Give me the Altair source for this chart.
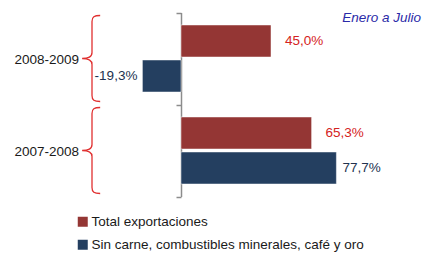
import altair as alt
import pandas as pd

grupos = ["2008-2009", "2007-2008"]
series = ["Total exportaciones", "Sin carne, combustibles minerales, café y oro"]
total = [45.0, 65.3]
sin_carne = [-19.3, 77.7]
nota = "Enero a Julio"

rows = []
for g, t, s in zip(grupos, total, sin_carne):
    rows.append({"grupo": g, "serie": series[0], "valor": t})
    rows.append({"grupo": g, "serie": series[1], "valor": s})
df = pd.DataFrame(rows)
df["etiqueta"] = df["valor"].map(lambda v: f"{v:.1f}".replace(".", ",") + "%")

df_g = pd.DataFrame({"grupo": grupos})
df_n = pd.DataFrame({"t": [nota]})

FONT = "Liberation Sans"
FS = 13.5
RED_BAR = "#943634"
BLUE_BAR = "#243f60"
RED_TXT = "#d42222"
BLUE_TXT = "#22324f"

xs = alt.Scale(domain=[-86.5, 121.5], range=[0, 416], nice=False, zero=False)
ys = alt.Scale(domain=grupos, range=[4.5, 188.5], paddingInner=0, paddingOuter=0)
yo = alt.Scale(domain=series, paddingInner=0.0857, paddingOuter=0.357)

y_axis = alt.Axis(labels=False, title=None, offset=-173, domainColor="#8c8c8c",
                  domainWidth=1.5, tickColor="#8c8c8c", tickWidth=1.5, tickSize=5,
                  tickBand="extent", grid=False)

base = alt.Chart(df)

bars = base.mark_bar(stroke="white", strokeWidth=0.8, strokeOpacity=0.6).encode(
    x=alt.X("valor:Q", scale=xs, axis=None),
    y=alt.Y("grupo:N", scale=ys, axis=y_axis, sort=grupos),
    yOffset=alt.YOffset("serie:N", scale=yo, sort=series),
    color=alt.Color("serie:N", scale=alt.Scale(domain=series, range=[RED_BAR, BLUE_BAR]),
                    sort=series,
                    legend=alt.Legend(orient="none", legendX=68, legendY=207, title=None,
                                      symbolType="square", symbolSize=100,
                                      symbolStrokeWidth=0, labelFont=FONT,
                                      labelFontSize=FS, labelColor="#1a1a1a",
                                      rowPadding=8, labelOffset=2, labelLimit=400)),
)

enc_txt = dict(
    x=alt.X("valor:Q", scale=xs),
    y=alt.Y("grupo:N", scale=ys, sort=grupos),
    yOffset=alt.YOffset("serie:N", scale=yo, sort=series),
    text="etiqueta:N",
)

red_lbl = base.transform_filter(alt.datum.serie == series[0]).mark_text(
    align="left", baseline="middle", dx=14, font=FONT, fontSize=FS, color=RED_TXT
).encode(**enc_txt)

blue_pos = base.transform_filter(
    (alt.datum.serie == series[1]) & (alt.datum.valor >= 0)
).mark_text(align="left", baseline="middle", dx=6, font=FONT, fontSize=FS,
            color=BLUE_TXT).encode(**enc_txt)

blue_neg = base.transform_filter(
    (alt.datum.serie == series[1]) & (alt.datum.valor < 0)
).mark_text(align="right", baseline="middle", dx=-5, font=FONT, fontSize=FS,
            color=BLUE_TXT).encode(**enc_txt)

brace_path = ("M0.19,-1 C0.05,-1 0,-0.97 0,-0.86 L0,-0.14 C0,-0.04 -0.08,0 -0.23,0 "
              "C-0.08,0 0,0.04 0,0.14 L0,0.86 C0,0.97 0.05,1 0.19,1")

braces = alt.Chart(df_g).mark_point(
    shape=brace_path, filled=False, stroke="#e03030", strokeWidth=1.3, size=7396, opacity=1
).encode(
    x=alt.value(84),
    y=alt.Y("grupo:N", scale=ys, sort=grupos),
)

cat_lbl = alt.Chart(df_g).mark_text(
    align="right", baseline="middle", dy=1, font=FONT, fontSize=FS, color="#1a1a1a"
).encode(
    x=alt.value(71),
    y=alt.Y("grupo:N", scale=ys, sort=grupos),
    text="grupo:N",
)

note = alt.Chart(df_n).mark_text(
    align="right", baseline="middle", font=FONT, fontSize=FS, fontStyle="italic",
    color="#2a2aa8"
).encode(x=alt.value(413), y=alt.value(9.5), text="t:N")

chart = alt.layer(bars, red_lbl, blue_pos, blue_neg, braces, cat_lbl, note).properties(
    width=416, height=245, padding=0, autosize=alt.AutoSizeParams(type="none")
).configure_view(stroke=None)

chart.save("out.html", embed_options={"renderer": "svg", "actions": False})
